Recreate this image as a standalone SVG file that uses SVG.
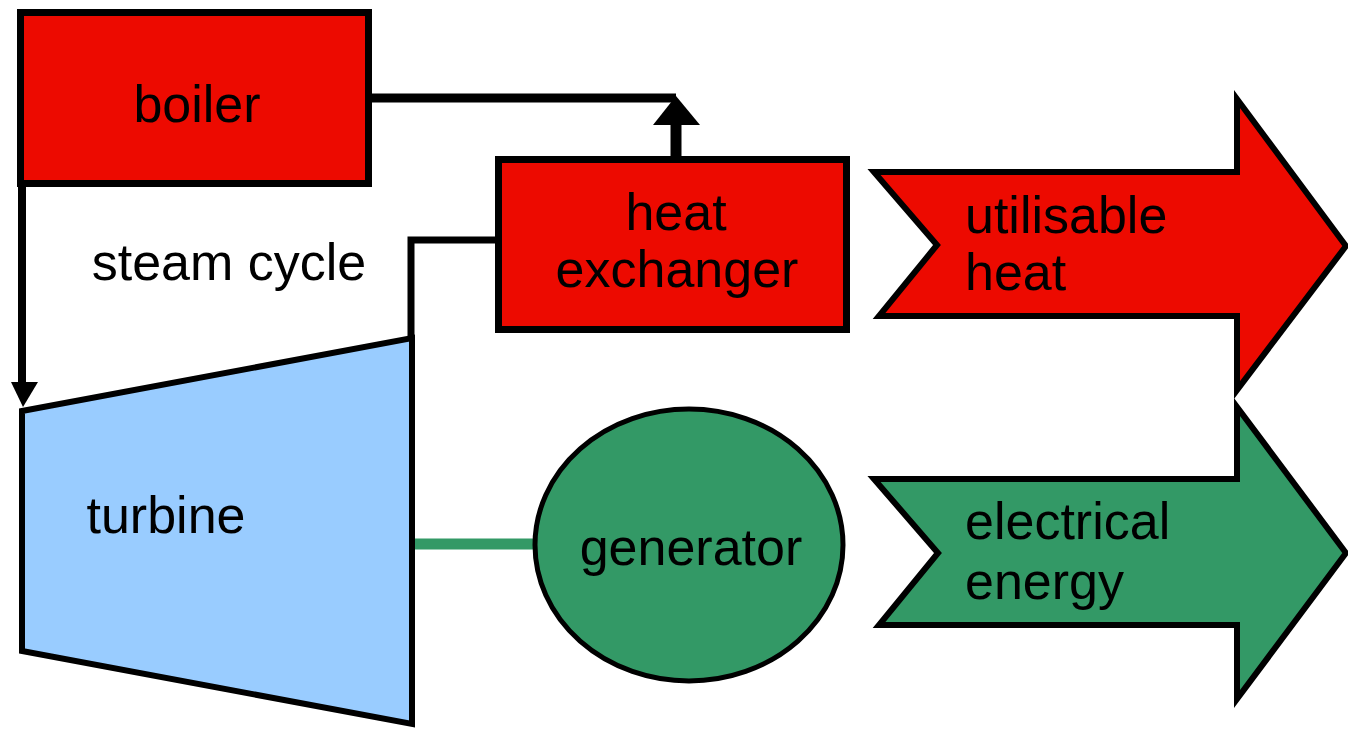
<svg xmlns="http://www.w3.org/2000/svg" width="1348" height="729" viewBox="0 0 1348 729">
<style>
.lbl{font-family:"Liberation Sans",Arial,sans-serif;font-size:52px;fill:#000}
.red{fill:#ED0A00;stroke:#000;stroke-width:7}
.arrow{stroke:#000;stroke-width:6;stroke-linejoin:miter}
</style>
<rect width="1348" height="729" fill="#fff"/>
<g id="connectors">
<polyline points="372,98 676,98" fill="none" stroke="#000" stroke-width="9"/>
<line x1="676" y1="157" x2="676" y2="122" stroke="#000" stroke-width="11"/>
<polygon points="676,96 653,125 700,125" fill="#000"/>
<polyline points="495,240 411,240 411,336" fill="none" stroke="#000" stroke-width="7"/>
<line x1="22" y1="187" x2="22" y2="384" stroke="#000" stroke-width="8"/>
<polygon points="11,382 38,382 23,407" fill="#000"/>
<line x1="413" y1="544" x2="533" y2="544" stroke="#339966" stroke-width="11"/>
</g>
<g id="boiler">
<rect class="red" x="20.5" y="12.5" width="348" height="171"/>
<text class="lbl" x="197" y="122" text-anchor="middle">boiler</text>
</g>
<text id="steam-cycle" class="lbl" x="229" y="280" text-anchor="middle">steam cycle</text>
<g id="heat-exchanger">
<rect class="red" x="498.5" y="159.5" width="348" height="170"/>
<text class="lbl" x="676" y="230" text-anchor="middle">heat</text>
<text class="lbl" x="677" y="287" text-anchor="middle">exchanger</text>
</g>
<g id="turbine">
<polygon points="22,411 412,338 412,724 22,651" fill="#99CCFF" stroke="#000" stroke-width="6"/>
<text class="lbl" x="166" y="533" text-anchor="middle">turbine</text>
</g>
<g id="generator">
<ellipse cx="689" cy="545" rx="154" ry="136" fill="#339966" stroke="#000" stroke-width="5"/>
<text class="lbl" x="691" y="565" text-anchor="middle">generator</text>
</g>
<g id="utilisable-heat">
<polygon class="arrow" points="874,172 937,245 879,316 1237,316 1237,390 1346,246 1237,99 1237,172" fill="#ED0A00"/>
<text class="lbl" x="965" y="233">utilisable</text>
<text class="lbl" x="965" y="290">heat</text>
</g>
<g id="electrical-energy">
<polygon class="arrow" points="874,479 938,553 879,625 1237,625 1237,699 1346,553 1237,407 1237,479" fill="#339966"/>
<text class="lbl" x="965" y="539">electrical</text>
<text class="lbl" x="965" y="599">energy</text>
</g>
</svg>
